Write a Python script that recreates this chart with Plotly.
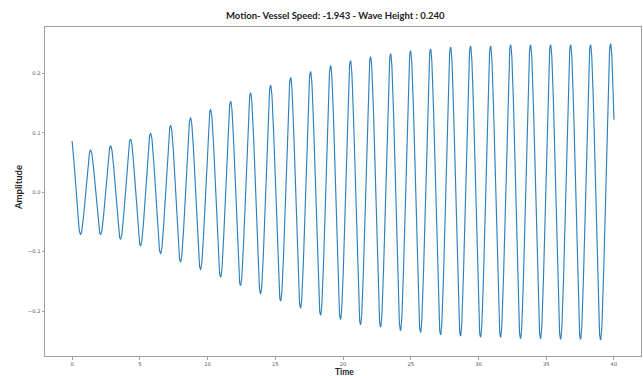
import numpy as np
import plotly.graph_objects as go

# Oscillation extrema (time in s, amplitude)
peak_times = [1.36, 2.84, 4.31, 5.79, 7.27, 8.74, 10.22, 11.70, 13.17, 14.65,
              16.13, 17.60, 19.08, 20.55, 22.03, 23.51, 24.98, 26.46, 27.94,
              29.41, 30.89, 32.37, 33.84, 35.32, 36.80, 38.27, 39.75]
peak_values = [0.071, 0.078, 0.089, 0.099, 0.112, 0.125, 0.139, 0.153, 0.167,
               0.180, 0.193, 0.203, 0.213, 0.2215, 0.228, 0.233, 0.238, 0.241,
               0.244, 0.246, 0.246, 0.248, 0.248, 0.248, 0.248, 0.248, 0.250]
trough_times = [0.62, 2.10, 3.57, 5.05, 6.53, 8.00, 9.48, 10.96, 12.43, 13.91,
                15.39, 16.86, 18.34, 19.81, 21.29, 22.77, 24.24, 25.72, 27.20,
                28.67, 30.15, 31.63, 33.10, 34.58, 36.06, 37.53, 39.01]
trough_values = [-0.071, -0.071, -0.079, -0.090, -0.103, -0.117, -0.130,
                 -0.143, -0.157, -0.171, -0.183, -0.195, -0.207, -0.214,
                 -0.223, -0.227, -0.233, -0.236, -0.240, -0.242, -0.244,
                 -0.244, -0.2465, -0.2465, -0.2475, -0.2475, -0.2487]
# lead-in crest before t=0 and the trough the record is heading to at t=40
lead_in = (-0.12, 0.097)
run_out = (40.49, -0.250)

x_ticks = [0, 5, 10, 15, 20, 25, 30, 35, 40]
y_ticks = [-0.2, -0.1, 0.0, 0.1, 0.2]
t_start, t_end = 0.0, 40.0

title_text = "Motion- Vessel Speed: -1.943 - Wave Height : 0.240"

# interleave troughs and crests into one ordered list of turning points
ext_t = [lead_in[0]]
ext_v = [lead_in[1]]
for tt, tv, pt, pv in zip(trough_times, trough_values, peak_times, peak_values):
    ext_t += [tt, pt]
    ext_v += [tv, pv]
ext_t.append(run_out[0])
ext_v.append(run_out[1])
ext_t = np.array(ext_t)
ext_v = np.array(ext_v)

# half-cosine swing between successive turning points
t = np.linspace(t_start, t_end, 4001)
idx = np.clip(np.searchsorted(ext_t, t, side="right") - 1, 0, len(ext_t) - 2)
a, b = ext_v[idx], ext_v[idx + 1]
s = (t - ext_t[idx]) / (ext_t[idx + 1] - ext_t[idx])
y = a + (b - a) * (1 - np.cos(np.pi * s)) / 2

fig = go.Figure()
fig.add_trace(go.Scatter(x=t, y=y, mode="lines",
                         line=dict(color="#2f80bd", width=1.15),
                         hoverinfo="skip", showlegend=False))

axis_common = dict(
    showline=True, mirror=True, linecolor="#a0a0a0", linewidth=1,
    showgrid=False, zeroline=False,
    ticks="outside", ticklen=2.5, tickwidth=0.8, tickcolor="#a0a0a0",
    tickfont=dict(family="DejaVu Sans", size=5.2, color="#555555"),
)

fig.update_xaxes(range=[-2, 42], tickvals=x_ticks,
                 ticktext=[str(v) for v in x_ticks], **axis_common)
fig.update_yaxes(range=[-0.2756, 0.278], tickvals=y_ticks,
                 tickformat=".1f", **axis_common)

# pixel geometry of the plotting area
W, H = 643, 376
ML, MR, MT, MB = 45, 2, 27, 20
plot_w = W - ML - MR
plot_h = H - MT - MB


def px_to_paper(px, py):
    return (px - ML) / plot_w, (H - MB - py) / plot_h


label_font = dict(family="Lato", size=9.5, color="#222222")
tx, ty = px_to_paper(335, 16)
ax_, ay_ = px_to_paper(18, 188)
bx, by = px_to_paper(344, 371.5)

fig.update_layout(
    width=W, height=H,
    margin=dict(l=ML, r=MR, t=MT, b=MB, autoexpand=False),
    paper_bgcolor="white", plot_bgcolor="white",
    template="none",
    annotations=[
        dict(text="<b>" + title_text + "</b>", x=tx, y=ty,
             xref="paper", yref="paper", xanchor="center", yanchor="middle",
             showarrow=False, font=label_font),
        dict(text="<b>Amplitude</b>", x=ax_, y=ay_,
             xref="paper", yref="paper", xanchor="center", yanchor="middle",
             textangle=-90, showarrow=False, font=label_font),
        dict(text="<b>Time</b>", x=bx, y=by,
             xref="paper", yref="paper", xanchor="center", yanchor="middle",
             showarrow=False, font=dict(family="Lato", size=8.5,
                                        color="#222222")),
    ],
)

fig.write_html("out.html")
